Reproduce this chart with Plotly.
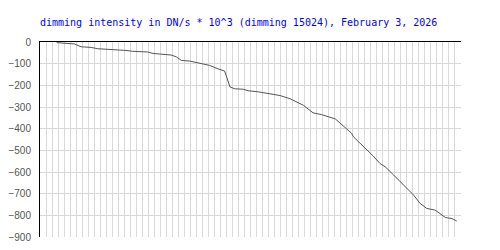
import plotly.graph_objects as go

title_text = "dimming intensity in DN/s * 10^3 (dimming 15024), February 3, 2026"

x_vals = [2.77, 3.77, 5.72, 6.83, 8.5, 9.6, 12.4, 14.3, 15.4, 17.9, 18.8, 20.4, 21.8,
          22.7, 23.5, 24.9, 26.3, 28.2, 29.6, 30.7, 31.6, 32.4, 33.8, 34.6, 36.3,
          37.9, 39.9, 41.6, 43.8, 45.4, 46.8, 49.1, 50.2, 51.8, 52.1, 53.2, 54.3,
          55.4, 56.5, 57.4, 58.8, 60.4, 62.1, 63.2, 64.3, 65.7, 66.5, 67.4, 68.5, 69.3]
y_vals = [-3, -6, -9, -22, -25, -31, -34, -39, -43, -46, -53, -56, -60,
          -69, -85, -88, -97, -108, -124, -134, -208, -216, -218, -225, -230,
          -238, -247, -262, -292, -327, -335, -355, -382, -421, -437, -466, -498,
          -526, -560, -576, -614, -661, -706, -745, -768, -776, -791, -810, -815, -826]

y_ticks = [0, -100, -200, -300, -400, -500, -600, -700, -800, -900]

fig = go.Figure()
fig.add_trace(go.Scatter(x=x_vals, y=y_vals, mode="lines",
                         line=dict(color="#555555", width=1), hoverinfo="skip"))

fig.update_layout(
    width=500, height=250,
    margin=dict(l=40, r=39, t=42, b=13, autoexpand=False),
    paper_bgcolor="white", plot_bgcolor="white",
    showlegend=False,
    title=dict(text=title_text, x=0.08, xanchor="left", xref="container",
               y=1 - 22 / 250, yanchor="middle", yref="container", automargin=False,
               font=dict(family="DejaVu Sans Mono", size=10, color="#0000ff")),
    font=dict(family="Liberation Sans", size=10, color="#555555"),
)
fig.update_xaxes(range=[0, 70], dtick=1, tick0=0, side="top", showticklabels=False,
                 showgrid=True, gridcolor="#d9d9d9", gridwidth=1, ticks="", automargin=False,
                 showline=True, linecolor="black", linewidth=1, zeroline=False)
fig.update_yaxes(range=[-900, 0], tickvals=y_ticks, showgrid=True, gridcolor="#d9d9d9",
                 gridwidth=1, ticks="", ticklabelstandoff=6, automargin=False,
                 showline=True, linecolor="black", linewidth=1, zeroline=False)

fig.write_html("out.html")
